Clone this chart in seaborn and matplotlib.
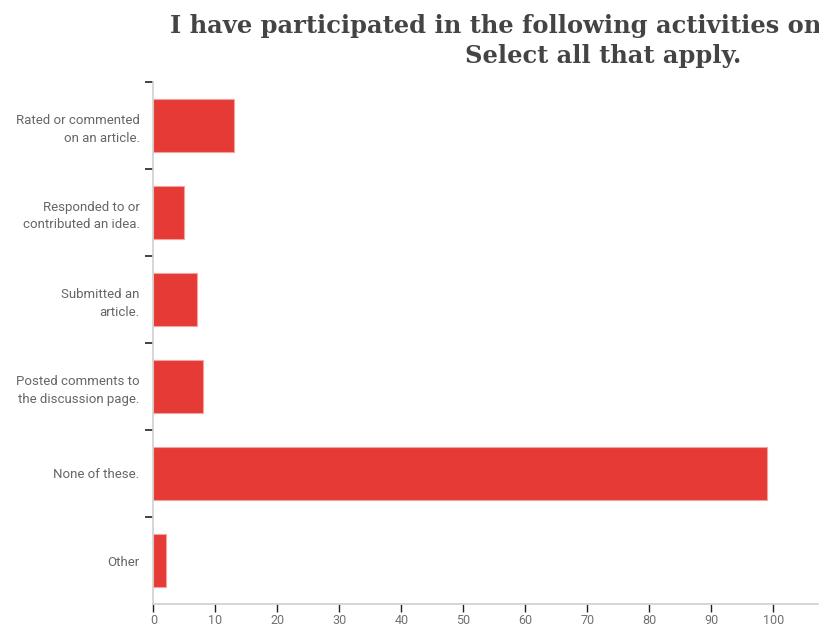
import matplotlib
matplotlib.use("Agg")
import matplotlib.pyplot as plt
import seaborn as sns
import pandas as pd
import numpy as np
from matplotlib import font_manager

categories = [
    "Rated or commented\non an article.",
    "Responded to or\ncontributed an idea.",
    "Submitted an\narticle.",
    "Posted comments to\nthe discussion page.",
    "None of these.",
    "Other",
]
values = [13, 5, 7, 8, 99, 2]
xticks = [0, 10, 20, 30, 40, 50, 60, 70, 80, 90, 100]
title_line1 = "I have participated in the following activities on"
title_line2 = "Select all that apply."

sns.set_theme(style="white")
names = {f.name for f in font_manager.fontManager.ttflist}
label_font = "Liberation Sans Narrow" if "Liberation Sans Narrow" in names else "Roboto"
plt.rcParams["font.family"] = [label_font, "DejaVu Sans"]

df = pd.DataFrame({"cat": categories, "val": values})

fig = plt.figure(figsize=(8.2, 6.27), dpi=100)
ax = fig.add_axes([153.5/820, 1-604/627, (818-153.5)/820, (604-82)/627])
sns.barplot(data=df, y="cat", x="val", orient="h", color="#e53a35",
            saturation=1, width=0.61, edgecolor="#f3a29f", linewidth=0.8, ax=ax)

ax.set_xlim(0, 107.2)
ax.set_ylim(5.5, -0.5)
ax.set_xlabel("")
ax.set_ylabel("")
ax.set_xticks(xticks)
ax.set_xticklabels([str(t) for t in xticks], color="#707070", fontsize=9)
ax.set_yticks(range(len(categories)))
ax.set_yticklabels(categories, color="#666666", fontsize=9.5, linespacing=1.45)
ax.tick_params(axis="y", which="major", length=0, pad=10)
ax.set_yticks(np.arange(-0.5, 5.0, 1.0), minor=True)
ax.tick_params(axis="y", which="minor", length=6, width=1.2, color="#222222", left=True)
ax.tick_params(axis="x", which="major", length=6, width=1, color="#222222", bottom=True, pad=1)
for s in ["top", "right"]:
    ax.spines[s].set_visible(False)
for s in ["left", "bottom"]:
    ax.spines[s].set_color("#d0d0d0")
    ax.spines[s].set_linewidth(1.2)
ax.grid(False)

fig.text(170/820, 1-26/627, title_line1, ha="left", va="center",
         fontsize=17.4, fontweight="bold", color="#444444", family=["DejaVu Serif"])
fig.text(603/820, 1-56/627, title_line2, ha="center", va="center",
         fontsize=17.4, fontweight="bold", color="#444444", family=["DejaVu Serif"])

fig.savefig("out.png", dpi=100)
